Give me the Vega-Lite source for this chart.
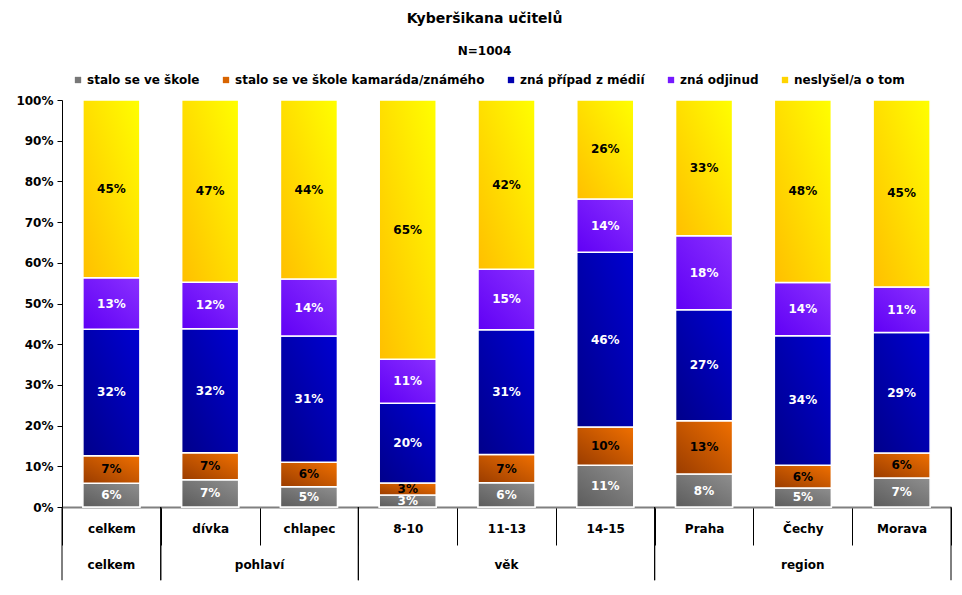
{
  "$schema": "https://vega.github.io/schema/vega-lite/v6.json",
  "width": 889,
  "height": 407,
  "autosize": "none",
  "padding": {"left": 62, "top": 100, "right": 11, "bottom": 88},
  "background": "white",
  "config": {
    "font": "DejaVu Sans",
    "view": {"stroke": null}
  },
  "title": {
    "text": "Kyberšikana učitelů",
    "subtitle": "N=1004",
    "frame": "group",
    "anchor": "middle",
    "dx": -22,
    "offset": 17,
    "fontSize": 14,
    "fontWeight": "bold",
    "color": "black",
    "subtitleFontSize": 12,
    "subtitleFontWeight": "bold",
    "subtitleColor": "black",
    "subtitlePadding": 20
  },
  "datasets": {
    "bars": [
      {"cat": "celkem", "s": "stalo se ve škole", "o": 1, "v": 6},
      {"cat": "celkem", "s": "stalo se ve škole kamaráda/známého", "o": 2, "v": 7},
      {"cat": "celkem", "s": "zná případ z médií", "o": 3, "v": 32},
      {"cat": "celkem", "s": "zná odjinud", "o": 4, "v": 13},
      {"cat": "celkem", "s": "neslyšel/a o tom", "o": 5, "v": 45},
      {"cat": "dívka", "s": "stalo se ve škole", "o": 1, "v": 7},
      {"cat": "dívka", "s": "stalo se ve škole kamaráda/známého", "o": 2, "v": 7},
      {"cat": "dívka", "s": "zná případ z médií", "o": 3, "v": 32},
      {"cat": "dívka", "s": "zná odjinud", "o": 4, "v": 12},
      {"cat": "dívka", "s": "neslyšel/a o tom", "o": 5, "v": 47},
      {"cat": "chlapec", "s": "stalo se ve škole", "o": 1, "v": 5},
      {"cat": "chlapec", "s": "stalo se ve škole kamaráda/známého", "o": 2, "v": 6},
      {"cat": "chlapec", "s": "zná případ z médií", "o": 3, "v": 31},
      {"cat": "chlapec", "s": "zná odjinud", "o": 4, "v": 14},
      {"cat": "chlapec", "s": "neslyšel/a o tom", "o": 5, "v": 44},
      {"cat": "8-10", "s": "stalo se ve škole", "o": 1, "v": 3},
      {"cat": "8-10", "s": "stalo se ve škole kamaráda/známého", "o": 2, "v": 3},
      {"cat": "8-10", "s": "zná případ z médií", "o": 3, "v": 20},
      {"cat": "8-10", "s": "zná odjinud", "o": 4, "v": 11},
      {"cat": "8-10", "s": "neslyšel/a o tom", "o": 5, "v": 65},
      {"cat": "11-13", "s": "stalo se ve škole", "o": 1, "v": 6},
      {"cat": "11-13", "s": "stalo se ve škole kamaráda/známého", "o": 2, "v": 7},
      {"cat": "11-13", "s": "zná případ z médií", "o": 3, "v": 31},
      {"cat": "11-13", "s": "zná odjinud", "o": 4, "v": 15},
      {"cat": "11-13", "s": "neslyšel/a o tom", "o": 5, "v": 42},
      {"cat": "14-15", "s": "stalo se ve škole", "o": 1, "v": 11},
      {"cat": "14-15", "s": "stalo se ve škole kamaráda/známého", "o": 2, "v": 10},
      {"cat": "14-15", "s": "zná případ z médií", "o": 3, "v": 46},
      {"cat": "14-15", "s": "zná odjinud", "o": 4, "v": 14},
      {"cat": "14-15", "s": "neslyšel/a o tom", "o": 5, "v": 26},
      {"cat": "Praha", "s": "stalo se ve škole", "o": 1, "v": 8},
      {"cat": "Praha", "s": "stalo se ve škole kamaráda/známého", "o": 2, "v": 13},
      {"cat": "Praha", "s": "zná případ z médií", "o": 3, "v": 27},
      {"cat": "Praha", "s": "zná odjinud", "o": 4, "v": 18},
      {"cat": "Praha", "s": "neslyšel/a o tom", "o": 5, "v": 33},
      {"cat": "Čechy", "s": "stalo se ve škole", "o": 1, "v": 5},
      {"cat": "Čechy", "s": "stalo se ve škole kamaráda/známého", "o": 2, "v": 6},
      {"cat": "Čechy", "s": "zná případ z médií", "o": 3, "v": 34},
      {"cat": "Čechy", "s": "zná odjinud", "o": 4, "v": 14},
      {"cat": "Čechy", "s": "neslyšel/a o tom", "o": 5, "v": 48},
      {"cat": "Morava", "s": "stalo se ve škole", "o": 1, "v": 7},
      {"cat": "Morava", "s": "stalo se ve škole kamaráda/známého", "o": 2, "v": 6},
      {"cat": "Morava", "s": "zná případ z médií", "o": 3, "v": 29},
      {"cat": "Morava", "s": "zná odjinud", "o": 4, "v": 11},
      {"cat": "Morava", "s": "neslyšel/a o tom", "o": 5, "v": 45}
    ],
    "grp": [
      {"g": "celkem", "a": "celkem", "b": "celkem", "m": "celkem"},
      {"g": "pohlaví", "a": "dívka", "b": "chlapec", "m": "dívka"},
      {"g": "věk", "a": "8-10", "b": "14-15", "m": "11-13"},
      {"g": "region", "a": "Praha", "b": "Morava", "m": "Čechy"}
    ]
  },
  "layer": [
    {
      "data": {"name": "bars"},
      "transform": [
        {"stack": "v", "groupby": ["cat"], "sort": [{"field": "o"}], "as": ["y0", "y1"], "offset": "normalize"}
      ],
      "mark": {"type": "bar", "size": 57, "stroke": "white", "strokeWidth": 1.5},
      "encoding": {
        "x": {
          "field": "cat", "type": "nominal", "sort": null,
          "scale": {"domain": ["celkem", "dívka", "chlapec", "8-10", "11-13", "14-15", "Praha", "Čechy", "Morava"], "paddingInner": 0, "paddingOuter": 0},
          "axis": {
            "title": null, "labelAngle": 0, "labelFontSize": 12, "labelFontWeight": "bold", "labelColor": "black",
            "tickBand": "extent", "tickSize": 38, "tickColor": "black", "tickWidth": 1,
            "domainColor": "#808080", "domainWidth": 2, "labelPadding": -22
          }
        },
        "y": {
          "field": "y1", "type": "quantitative",
          "scale": {"domain": [0, 1], "nice": false},
          "axis": {
            "title": null, "format": ".0%", "values": [0, 0.1, 0.2, 0.3, 0.4, 0.5, 0.6, 0.7, 0.8, 0.9, 1],
            "grid": false, "labelFontSize": 12, "labelFontWeight": "bold", "labelColor": "black",
            "domainColor": "black", "tickColor": "black", "tickSize": 5, "labelPadding": 4
          }
        },
        "y2": {"field": "y0"},
        "color": {
          "field": "s", "type": "nominal",
          "scale": {
            "domain": ["stalo se ve škole", "stalo se ve škole kamaráda/známého", "zná případ z médií", "zná odjinud", "neslyšel/a o tom"],
            "range": ["#777777", "#d86400", "#0000b0", "#7518ff", "#ffd400"]
          },
          "legend": {
            "title": null, "orient": "none", "legendX": 10, "legendY": -26, "direction": "horizontal", "columns": 5,
            "symbolType": "square", "symbolSize": 40, "symbolStrokeWidth": 0, "labelFontSize": 12, "labelFontWeight": "bold",
            "labelColor": "black", "labelOffset": 3, "columnPadding": 20, "labelLimit": 400
          }
        },
        "order": {"field": "o"}
      }
    },
    {
      "data": {"name": "bars"},
      "transform": [
        {"stack": "v", "groupby": ["cat"], "sort": [{"field": "o"}], "as": ["y0", "y1"], "offset": "normalize"},
        {"filter": "datum.o === 1"}
      ],
      "mark": {"type": "bar", "size": 57, "stroke": "white", "strokeWidth": 1.5,
        "color": {"gradient": "linear", "x1": 0, "y1": 1, "x2": 1, "y2": 0, "stops": [{"offset": 0, "color": "#5c5c5c"}, {"offset": 1, "color": "#8f8f8f"}]}},
      "encoding": {"x": {"field": "cat", "type": "nominal", "sort": null}, "y": {"field": "y1", "type": "quantitative"}, "y2": {"field": "y0"}}
    },
    {
      "data": {"name": "bars"},
      "transform": [
        {"stack": "v", "groupby": ["cat"], "sort": [{"field": "o"}], "as": ["y0", "y1"], "offset": "normalize"},
        {"filter": "datum.o === 2"}
      ],
      "mark": {"type": "bar", "size": 57, "stroke": "white", "strokeWidth": 1.5,
        "color": {"gradient": "linear", "x1": 0, "y1": 1, "x2": 1, "y2": 0, "stops": [{"offset": 0, "color": "#9a3c00"}, {"offset": 1, "color": "#f07000"}]}},
      "encoding": {"x": {"field": "cat", "type": "nominal", "sort": null}, "y": {"field": "y1", "type": "quantitative"}, "y2": {"field": "y0"}}
    },
    {
      "data": {"name": "bars"},
      "transform": [
        {"stack": "v", "groupby": ["cat"], "sort": [{"field": "o"}], "as": ["y0", "y1"], "offset": "normalize"},
        {"filter": "datum.o === 3"}
      ],
      "mark": {"type": "bar", "size": 57, "stroke": "white", "strokeWidth": 1.5,
        "color": {"gradient": "linear", "x1": 0, "y1": 1, "x2": 1, "y2": 0, "stops": [{"offset": 0, "color": "#00008a"}, {"offset": 1, "color": "#0000d2"}]}},
      "encoding": {"x": {"field": "cat", "type": "nominal", "sort": null}, "y": {"field": "y1", "type": "quantitative"}, "y2": {"field": "y0"}}
    },
    {
      "data": {"name": "bars"},
      "transform": [
        {"stack": "v", "groupby": ["cat"], "sort": [{"field": "o"}], "as": ["y0", "y1"], "offset": "normalize"},
        {"filter": "datum.o === 4"}
      ],
      "mark": {"type": "bar", "size": 57, "stroke": "white", "strokeWidth": 1.5,
        "color": {"gradient": "linear", "x1": 0, "y1": 1, "x2": 1, "y2": 0, "stops": [{"offset": 0, "color": "#6000f5"}, {"offset": 1, "color": "#8a30ff"}]}},
      "encoding": {"x": {"field": "cat", "type": "nominal", "sort": null}, "y": {"field": "y1", "type": "quantitative"}, "y2": {"field": "y0"}}
    },
    {
      "data": {"name": "bars"},
      "transform": [
        {"stack": "v", "groupby": ["cat"], "sort": [{"field": "o"}], "as": ["y0", "y1"], "offset": "normalize"},
        {"filter": "datum.o === 5"}
      ],
      "mark": {"type": "bar", "size": 57, "stroke": "white", "strokeWidth": 1.5,
        "color": {"gradient": "linear", "x1": 0, "y1": 1, "x2": 1, "y2": 0, "stops": [{"offset": 0, "color": "#ffbf00"}, {"offset": 1, "color": "#ffff00"}]}},
      "encoding": {"x": {"field": "cat", "type": "nominal", "sort": null}, "y": {"field": "y1", "type": "quantitative"}, "y2": {"field": "y0"}}
    },
    {
      "data": {"name": "bars"},
      "transform": [
        {"stack": "v", "groupby": ["cat"], "sort": [{"field": "o"}], "as": ["y0", "y1"], "offset": "normalize"},
        {"calculate": "(datum.y0 + datum.y1) / 2", "as": "ym"},
        {"calculate": "datum.v + '%'", "as": "lab"}
      ],
      "mark": {"type": "text", "fontSize": 12, "fontWeight": "bold", "baseline": "middle", "align": "center"},
      "encoding": {
        "x": {"field": "cat", "type": "nominal", "sort": null},
        "y": {"field": "ym", "type": "quantitative"},
        "text": {"field": "lab"},
        "color": {
          "condition": {"test": "datum.o === 2 || datum.o === 5", "value": "black"},
          "value": "white"
        }
      }
    },
    {
      "data": {"name": "grp"},
      "mark": {"type": "rule", "color": "black", "strokeWidth": 1},
      "encoding": {
        "x": {"field": "a", "type": "nominal", "sort": null, "bandPosition": 0},
        "y": {"datum": 0, "type": "quantitative"},
        "y2": {"datum": -0.18}
      }
    },
    {
      "data": {"name": "grp"},
      "mark": {"type": "rule", "color": "black", "strokeWidth": 1},
      "encoding": {
        "x": {"field": "b", "type": "nominal", "sort": null, "bandPosition": 1},
        "y": {"datum": 0, "type": "quantitative"},
        "y2": {"datum": -0.18}
      }
    },
    {
      "data": {"name": "grp"},
      "transform": [{"filter": "datum.g !== 'pohlaví'"}],
      "mark": {"type": "text", "fontSize": 12, "fontWeight": "bold", "color": "black", "baseline": "middle", "align": "center"},
      "encoding": {
        "x": {"field": "m", "type": "nominal", "sort": null, "bandPosition": 0.5},
        "y": {"datum": -0.1425, "type": "quantitative"},
        "text": {"field": "g"}
      }
    },
    {
      "data": {"name": "grp"},
      "transform": [{"filter": "datum.g === 'pohlaví'"}],
      "mark": {"type": "text", "fontSize": 12, "fontWeight": "bold", "color": "black", "baseline": "middle", "align": "center"},
      "encoding": {
        "x": {"field": "m", "type": "nominal", "sort": null, "bandPosition": 1},
        "y": {"datum": -0.1425, "type": "quantitative"},
        "text": {"field": "g"}
      }
    }
  ]
}
